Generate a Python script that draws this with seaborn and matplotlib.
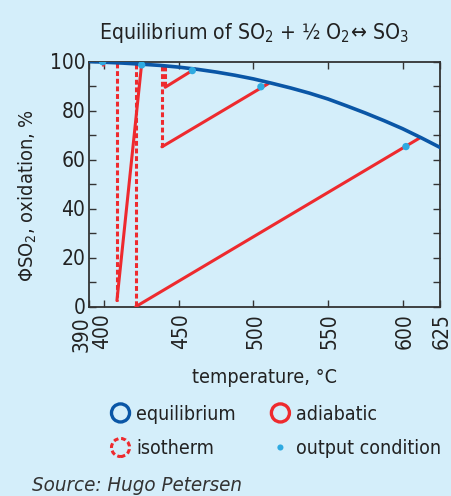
import matplotlib
matplotlib.use("Agg")
import matplotlib.pyplot as plt
import matplotlib.patches as mpatches
import matplotlib.transforms as mtransforms
from matplotlib.legend_handler import HandlerPatch
from matplotlib.ticker import MultipleLocator, FixedLocator
import seaborn as sns
import pandas as pd

# ---- data ----
eq_temp = [390, 400, 412.5, 425, 437.5, 450, 462.5, 475, 487.5, 500, 512.5,
           525, 537.5, 550, 562.5, 575, 587.5, 600, 612.5, 625]
eq_conv = [100.0, 99.7, 99.35, 98.9, 98.4, 97.7, 96.8, 95.7, 94.4, 92.9, 91.1,
           89.2, 87.1, 84.7, 81.9, 79.0, 75.9, 72.6, 68.9, 65.0]

iso_temp = [398.8, 408.4, 421.0, 438.6, 440.8]
iso_top = [99.8, 99.4, 99.0, 98.3, 98.2]
iso_bottom = [98.0, 2.5, 0.0, 65.2, 89.5]

adi_start_t = [408.4, 421.0, 438.6, 440.8]
adi_start_x = [2.5, 0.0, 65.2, 89.5]
adi_end_t = [425.0, 611.5, 510.0, 460.7]
adi_end_x = [99.2, 68.8, 91.0, 97.0]

out_t = [398.8, 425.0, 459.0, 505.0, 602.3]
out_x = [99.9, 98.6, 96.3, 89.7, 65.3]

xtick_vals = [390, 400, 450, 500, 550, 600, 625]

BG = "#d4eefa"
BLUE = "#0a56a6"
RED = "#ee2a2e"
CYAN = "#2eaae1"
DARK = "#333333"
TXT = "#222222"

sns.set_theme(style="ticks")
plt.rcParams["font.family"] = ["DejaVu Sans"]
plt.rcParams["font.stretch"] = "condensed"
plt.rcParams["mathtext.fontset"] = "custom"
plt.rcParams["mathtext.rm"] = "DejaVu Sans:stretch=condensed"
plt.rcParams["mathtext.it"] = "DejaVu Sans:stretch=condensed:style=italic"

fig = plt.figure(figsize=(4.52, 4.96), dpi=100, facecolor=BG)
ax = fig.add_axes([0.198, 0.3817, 0.775, 0.4943])
ax.set_facecolor(BG)

iso_rows = []
for i, (t, a, b) in enumerate(zip(iso_temp, iso_top, iso_bottom)):
    iso_rows.append({"seg": i, "T": t, "X": a})
    iso_rows.append({"seg": i, "T": t, "X": b})
iso_df = pd.DataFrame(iso_rows)

adi_rows = []
for i, (t0, x0, t1, x1) in enumerate(zip(adi_start_t, adi_start_x, adi_end_t, adi_end_x)):
    adi_rows.append({"seg": i, "T": t0, "X": x0})
    adi_rows.append({"seg": i, "T": t1, "X": x1})
adi_df = pd.DataFrame(adi_rows)

eq_df = pd.DataFrame({"T": eq_temp, "X": eq_conv})
out_df = pd.DataFrame({"T": out_t, "X": out_x})

sns.lineplot(data=adi_df, x="T", y="X", units="seg", estimator=None, sort=False,
             color=RED, lw=2.2, ax=ax, zorder=3)
sns.lineplot(data=iso_df, x="T", y="X", units="seg", estimator=None, sort=False,
             color=RED, lw=2.2, ax=ax, zorder=3, linestyle=(0, (1.6, 0.9)))
sns.lineplot(data=eq_df, x="T", y="X", color=BLUE, lw=2.6, ax=ax, zorder=4)
sns.scatterplot(data=out_df, x="T", y="X", color=CYAN, s=28, edgecolor="none",
                ax=ax, zorder=5)

ax.set_xlim(390, 625)
ax.set_ylim(0, 100)
ax.xaxis.set_major_locator(FixedLocator(xtick_vals))
ax.set_xticklabels([str(v) for v in xtick_vals], rotation=90)
ax.yaxis.set_major_locator(MultipleLocator(20))
ax.yaxis.set_minor_locator(MultipleLocator(10))
ax.tick_params(axis="both", which="both", direction="in", top=True, right=True,
               color=DARK, width=1.0, labelsize=15, labelcolor=TXT, pad=3)
ax.tick_params(axis="x", which="both", pad=5)
ax.tick_params(which="both", length=5)
for s in ax.spines.values():
    s.set_color(DARK)
    s.set_linewidth(1.3)

# nudge the crowded 390/400 labels apart like the reference
x_shift = {390: (-8.0, -2.5), 400: (-2.5, 0.0)}
for lab, v in zip(ax.get_xticklabels(), xtick_vals):
    dx, dy = x_shift.get(v, (2.0, 0.0))
    lab.set_transform(lab.get_transform() +
                      mtransforms.ScaledTranslation(dx / 100, dy / 100, fig.dpi_scale_trans))
for lab in ax.get_yticklabels():
    lab.set_transform(lab.get_transform() +
                      mtransforms.ScaledTranslation(0, 1 / 100, fig.dpi_scale_trans))

ax.set_xlabel("temperature, °C", fontsize=14.2, color=TXT, labelpad=12)
ax.set_ylabel(r"ΦSO$_2$, oxidation, %", fontsize=14.4, color=TXT)
ax.yaxis.set_label_coords(-0.145, 0.455)
ax.set_title(r"Equilibrium of SO$_2$ + ½ O$_2$↔ SO$_3$", fontsize=15.2,
             color=TXT, pad=16, x=0.469)


class HandlerCircle(HandlerPatch):
    def create_artists(self, legend, orig_handle, xdescent, ydescent, width,
                       height, fontsize, trans):
        cx = width / 2 - xdescent
        cy = height / 2 - ydescent
        r = orig_handle.get_radius()
        p = mpatches.Circle((cx, cy), r)
        self.update_prop(p, orig_handle, legend)
        p.set_transform(trans)
        return [p]


h_eq = mpatches.Circle((0, 0), 6.5, facecolor="none", edgecolor=BLUE, lw=2.4)
h_adi = mpatches.Circle((0, 0), 6.5, facecolor="none", edgecolor=RED, lw=2.4)
h_iso = mpatches.Circle((0, 0), 6.5, facecolor="none", edgecolor=RED, lw=2.2,
                        linestyle=(0, (1.6, 0.9)))
h_out = mpatches.Circle((0, 0), 2.2, facecolor=CYAN, edgecolor="none")

leg = fig.legend([h_eq, h_iso, h_adi, h_out],
                 ["equilibrium", "isotherm", "adiabatic", "output condition"],
                 handler_map={mpatches.Circle: HandlerCircle()},
                 ncol=2, loc="center left", bbox_to_anchor=(0.215, 0.130),
                 frameon=False, fontsize=14, handlelength=1.0, handletextpad=0.3,
                 columnspacing=1.8, labelspacing=0.8, labelcolor=TXT,
                 borderpad=0.2)

fig.text(0.07, 0.022, "Source: Hugo Petersen", fontsize=14.7, style="italic",
         color="#333333", ha="left", va="center")

fig.savefig("out.png", dpi=100, facecolor=BG)
